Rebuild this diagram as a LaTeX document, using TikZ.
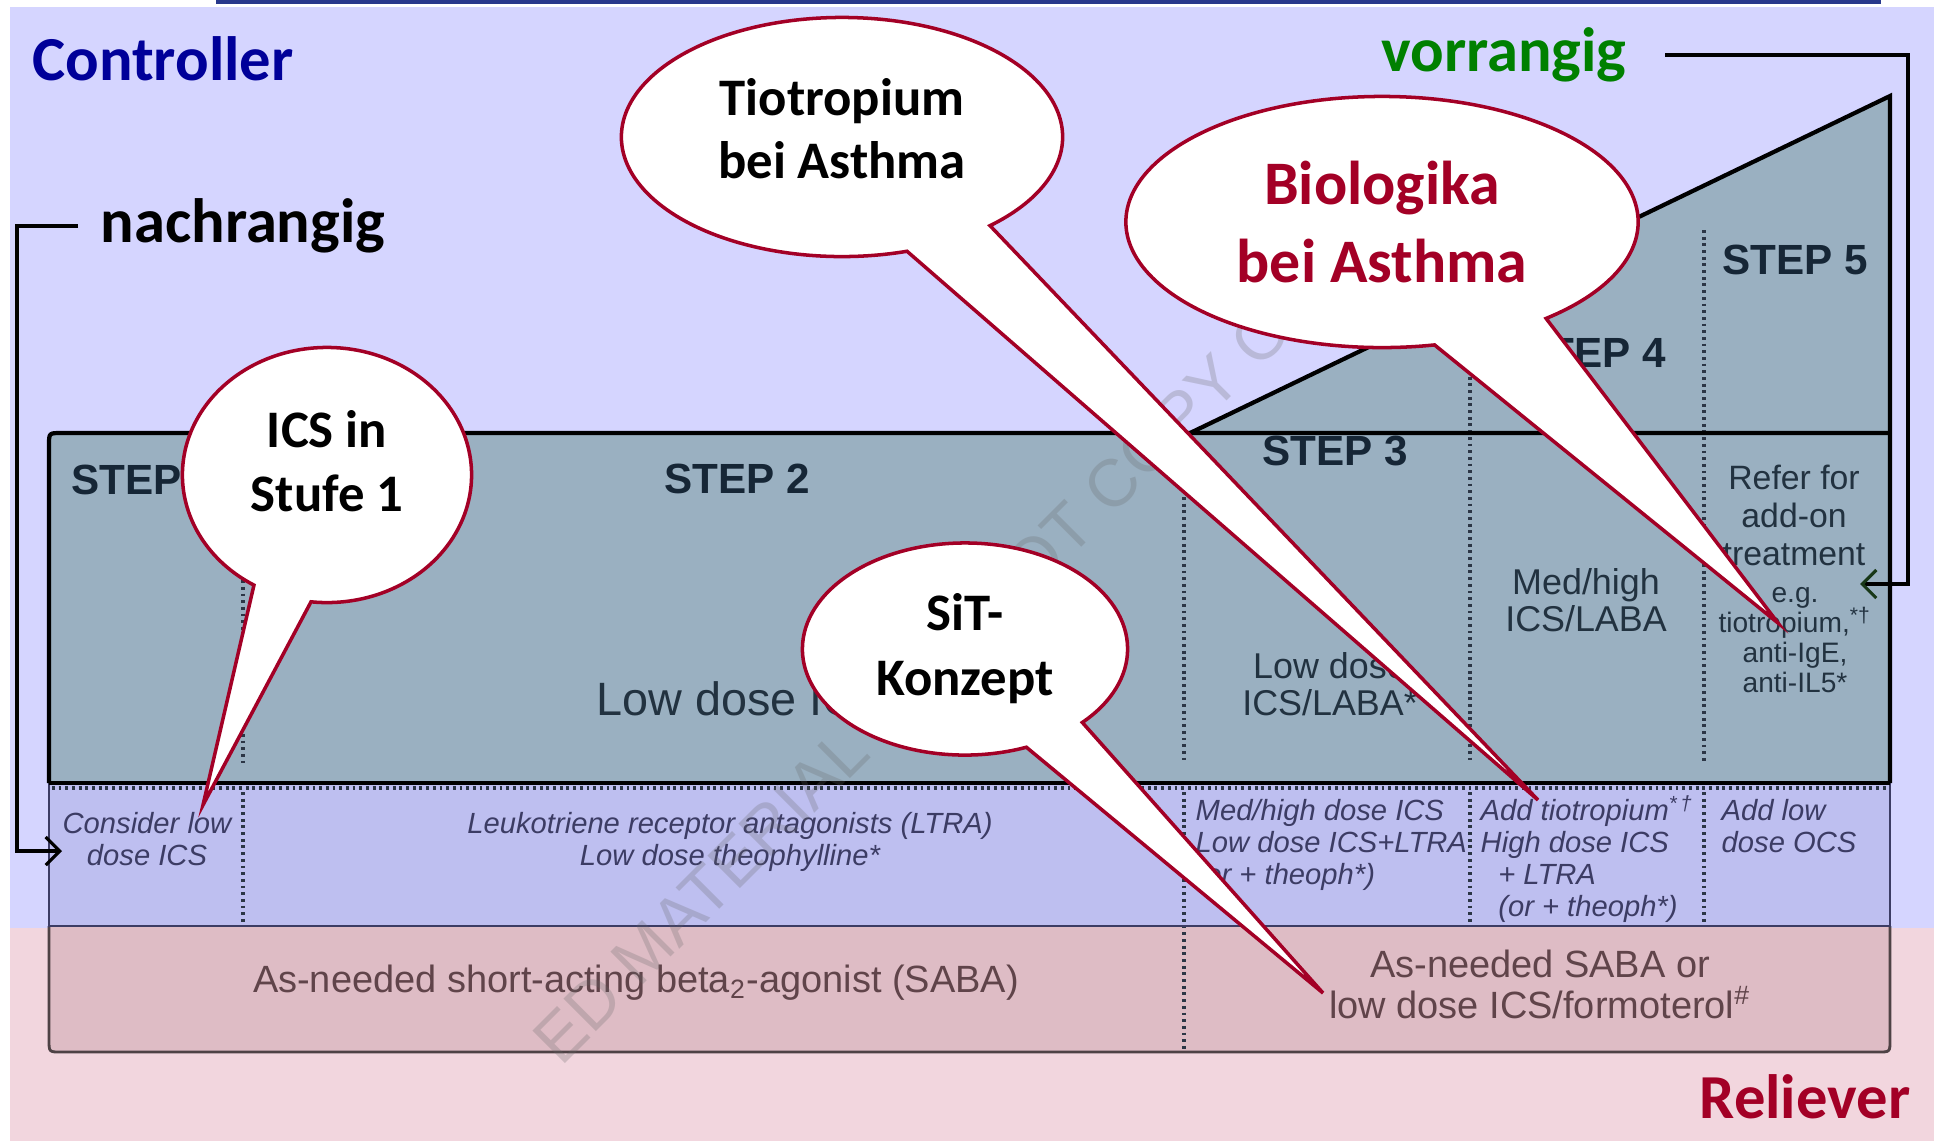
\documentclass[tikz,border=0pt]{standalone}
\usepackage{fontspec}
\setmainfont{Liberation Sans}
\newfontfamily\calibri{Carlito}
\usetikzlibrary{shapes.callouts, arrows.meta, positioning}

\definecolor{lavbg}{RGB}{213, 213, 255}
\definecolor{pinkbg}{RGB}{242, 214, 222}
\definecolor{ctrlfill}{RGB}{154, 176, 193}
\definecolor{rowfill}{RGB}{190, 191, 240}
\definecolor{sabafill}{RGB}{222, 188, 197}
\definecolor{bubred}{RGB}{163, 0, 38}
\definecolor{ctrlblue}{RGB}{0, 0, 153}
\definecolor{vorgreen}{RGB}{0, 128, 0}
\definecolor{stepink}{RGB}{22, 38, 54}
\definecolor{cellink}{RGB}{34, 50, 64}
\definecolor{rowink}{RGB}{60, 60, 100}
\definecolor{sabaink}{RGB}{96, 68, 74}
\definecolor{topline}{RGB}{40, 56, 140}
\definecolor{dotgrey}{RGB}{44, 54, 70}
\definecolor{arrowgreen}{RGB}{24, 56, 24}

\begin{document}
\begin{tikzpicture}[
  x=0.01cm, y=-0.01cm,
  bubble/.style={ellipse callout, draw=bubred, line width=1pt, fill=white, inner sep=0pt, outer sep=0pt, align=center, font=\calibri\bfseries\fontsize{15}{18}\selectfont},
  sidelbl/.style={inner sep=0pt, font=\calibri\bfseries\fontsize{17.8}{20}\selectfont},
  steplbl/.style={inner sep=0pt, text=stepink, font=\bfseries\fontsize{12}{13}\selectfont},
  cell/.style={inner sep=0pt, align=center, text=cellink, font=\fontsize{10.2}{10.6}\selectfont},
  rowtxt/.style={inner sep=0pt, text=rowink, font=\itshape\fontsize{8.3}{9.1}\selectfont},
  sabatxt/.style={inner sep=0pt, align=center, text=sabaink, font=\fontsize{10.8}{11.7}\selectfont},
  divider/.style={dotgrey, line width=1pt, dash pattern=on 0.8pt off 1.1pt},
  wmark/.style={rotate=45, inner sep=0pt, text=black!60, opacity=0.25, font=\fontsize{19}{19}\selectfont},
  bracket/.style={line width=0.9pt, -{Straight Barb[length=4pt, width=8pt]}}
]
  \useasboundingbox (0,0) rectangle (1934,1141);

  % background: controller / reliever
  \fill[lavbg] (10,7) rectangle (1934,928);
  \fill[pinkbg] (10,928) rectangle (1934,1141);
  \draw[topline, line width=1.1pt] (216,2) -- (1881,2);

  % stepwise chart
  \fill[sabafill] (49,920) -- (49,1040) .. controls (49,1052) .. (61,1052) -- (1878,1052) .. controls (1890,1052) .. (1890,1040) -- (1890,920) -- cycle;
  \fill[rowfill] (49,783) rectangle (1890,926);
  \fill[ctrlfill] (49,783) -- (49,445) .. controls (49,433) .. (61,433) -- (1190,433) -- (1890,96) -- (1890,783) -- cycle;

  \draw[divider] (52,788) -- (1888,788);
  \draw[divider] (243,480) -- (243,763);
  \draw[divider] (243,792) -- (243,924);
  \draw[divider] (1184,497) -- (1184,763);
  \draw[divider] (1184,792) -- (1184,1050);
  \draw[divider] (1470,370) -- (1470,763);
  \draw[divider] (1470,792) -- (1470,924);
  \draw[divider] (1704,230) -- (1704,763);
  \draw[divider] (1704,792) -- (1704,924);

  \draw[line width=0.8pt, draw=black!65!sabafill] (49,926) -- (49,1040) .. controls (49,1052) .. (61,1052) -- (1878,1052) .. controls (1890,1052) .. (1890,1040) -- (1890,926);
  \draw[line width=0.7pt, draw=rowink] (49,783) -- (49,926) -- (1890,926) -- (1890,783);
  \draw[line width=1.2pt] (49,783) -- (49,445) .. controls (49,433) .. (61,433) -- (1890,433);
  \draw[line width=1.2pt] (1190,433) -- (1890,96) -- (1890,783);
  \draw[line width=1.2pt] (49,783) -- (1890,783);

  \node[steplbl, anchor=west] (step1) at (71,480) {STEP 1};
  \node[steplbl] (step2) at (737,479) {STEP 2};
  \node[steplbl] (step3) at (1335,451) {STEP 3};
  \node[steplbl] (step4) at (1593,353) {STEP 4};
  \node[steplbl] (step5) at (1795,260) {STEP 5};

  \node[cell, anchor=west, font=\fontsize{13.3}{14}\selectfont] (lowics) at (596,699) {Low dose ICS};
  \node[cell] (lowlaba) at (1330,684) {Low dose\\ICS/LABA*};
  \node[cell] (medlaba) at (1586,600) {Med/high\\ICS/LABA};
  \node[cell, font=\fontsize{9.6}{10.8}\selectfont] (refer) at (1794,515) {Refer for\\add-on\\treatment};
  \node[cell, font=\fontsize{8}{8.5}\selectfont] (addon) at (1795,640) {e.g.\\tiotropium,\smash{\textsuperscript{*†}}\\anti-IgE,\\anti-IL5*};

  \node[rowtxt, align=center] (consider) at (147,839) {Consider low\\dose ICS};
  \node[rowtxt, align=center] (ltra) at (730,842) {Leukotriene receptor antagonists (LTRA)\\Low dose theophylline*};
  \node[rowtxt, align=left, anchor=north west] (medics) at (1195,799) {Med/high dose ICS\\Low dose ICS+LTRA\\(or + theoph*)};
  \node[rowtxt, align=left, anchor=north west] (addtio) at (1480,799) {Add tiotropium\smash{\textsuperscript{*\,†}}\\High dose ICS\\\hspace{5pt}+ LTRA\\\hspace{5pt}(or + theoph*)};
  \node[rowtxt, align=left, anchor=north west] (addocs) at (1721,799) {Add low\\dose OCS};

  \node[sabatxt] (saba) at (636,983) {As-needed short-acting beta\textsubscript{2}-agonist (SABA)};
  \node[sabatxt] (sabaform) at (1540,984) {As-needed SABA or\\low dose ICS/formoterol\textsuperscript{\#}};

  % watermark
  \begin{scope}
    \clip (10,7) rectangle (1934,1068);
    \node[wmark] (wmtext) at (912,684) {ED MATERIAL - DO NOT COPY O};
  \end{scope}

  % side labels
  \node[sidelbl, text=ctrlblue] (controller) at (163,59) {Controller};
  \node[sidelbl, text=bubred] (reliever) at (1805,1097) {Reliever};
  \node[sidelbl, text=black] (nach) at (243,226) {nachrangig};
  \node[sidelbl, text=vorgreen] (vor) at (1504,55) {vorrangig};

  \coordinate (nachturn) at (17,851);
  \coordinate (nachend) at (62,851);
  \coordinate (vorturn) at (1908,584);
  \coordinate (vorend) at (1860,584);
  \draw[bracket] ([xshift=-0.22cm]nach.west) -| (nachturn) -- (nachend);
  \draw[bracket, -{Straight Barb[length=4pt, width=8pt, color=arrowgreen]}] ([xshift=0.38cm]vor.east) -| (vorturn) -- (vorend);

  % callouts
  \node[bubble, minimum width=4.41cm, minimum height=2.39cm, text depth=0.17cm,
        callout absolute pointer={(1538,800)}, callout pointer arc=25] (tio) at (842,137) {Tiotropium\\bei Asthma};
  \node[bubble, text=bubred, minimum width=5.12cm, minimum height=2.51cm,
        font=\calibri\bfseries\fontsize{17.6}{22}\selectfont,
        callout absolute pointer={(1778,623)}, callout pointer arc=28] (bio) at (1382,222) {Biologika\\bei Asthma};
  \node[bubble, minimum width=2.89cm, minimum height=2.55cm, text depth=0.28cm,
        callout absolute pointer={(203,805)}, callout pointer arc=24] (ics) at (327,475) {ICS in\\Stufe 1};
  \node[bubble, minimum width=3.25cm, minimum height=2.12cm,
        font=\calibri\bfseries\fontsize{15}{18.5}\selectfont,
        callout absolute pointer={(1323,993)}, callout pointer arc=24] (sit) at (965,649) {SiT-\\Konzept};
\end{tikzpicture}
\end{document}
